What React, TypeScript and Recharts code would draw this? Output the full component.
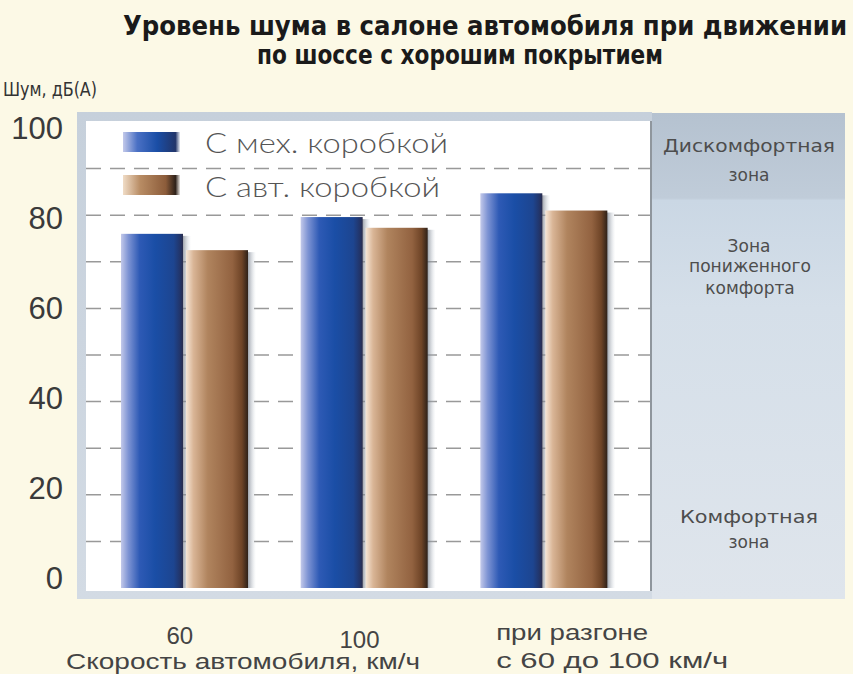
import React from 'react';
import { BarChart, Bar, XAxis, YAxis, CartesianGrid, Legend } from 'recharts';

// скорость / режим движения
const speeds = ['60', '100', 'при разгоне'];
const speedLabels = [['60'], ['100'], ['при разгоне', 'с 60 до 100 км/ч']];
// уровень шума, дБ(А)
const manualGear = [76, 79.6, 84.7];
const autoGear = [72.5, 77.3, 81];
const yTicks = [0, 10, 20, 30, 40, 50, 60, 70, 80, 90, 100];
const gridValues = [10, 20, 30, 40, 50, 60, 70, 80, 90];
const seriesNames = ['С мех. коробкой', 'С авт. коробкой'];

const data = speeds.map((s, i) => ({ speed: s, manual: manualGear[i], auto: autoGear[i] }));

const textFont = '"Liberation Sans", Arial, sans-serif';

const ShadedBar = (props: any) => {
  const { x, y, width, height, fill } = props;
  if (!height || height <= 0) return null;
  return (
    <g>
      <rect x={x + width - 2} y={y + 2} width={10} height={height - 2} fill="url(#barShadow)" />
      <rect x={x} y={y} width={width} height={height} fill={fill} />
    </g>
  );
};

const YTick = (props: any) => {
  const { y, payload } = props;
  if (payload.value % 20 !== 0) return null;
  const dy = -10 + payload.value * 0.16;
  return (
    <text x={63} y={y + dy + 11} textAnchor="end" fontSize={31} fill="#3a3a3a" fontFamily={textFont}>
      {payload.value}
    </text>
  );
};

const XTick = (props: any) => {
  const { x, y, index } = props;
  const lines = speedLabels[index] || [];
  if (lines.length > 1) {
    return (
      <g>
        <text x={x - 48} y={y + 50} fontSize={22} fill="#444" fontFamily={textFont} textLength={152} lengthAdjust="spacingAndGlyphs">{lines[0]}</text>
        <text x={x - 48} y={y + 78} fontSize={22} fill="#444" fontFamily={textFont} textLength={232} lengthAdjust="spacingAndGlyphs">{lines[1]}</text>
      </g>
    );
  }
  return (
    <text x={x - 5} y={y + 54 + index * 4} textAnchor="middle" fontSize={24} fill="#444" fontFamily={textFont}>
      {lines[0]}
    </text>
  );
};

const LegendBox = () => (
  <svg width={360} height={80} style={{ display: 'block' }}>
    <rect x={3} y={4} width={57} height={20} fill="url(#legBlue)" />
    <text x={85} y={25} fontSize={28} fontWeight={300} fill="#555" fontFamily='Lato, "DejaVu Sans", sans-serif' textLength={243} lengthAdjust="spacingAndGlyphs">{seriesNames[0]}</text>
    <rect x={3} y={47} width={57} height={20} fill="url(#legBrown)" />
    <text x={85} y={69} fontSize={28} fontWeight={300} fill="#555" fontFamily='Lato, "DejaVu Sans", sans-serif' textLength={235} lengthAdjust="spacingAndGlyphs">{seriesNames[1]}</text>
  </svg>
);

export default function App() {
  return (
    <div style={{ position: 'absolute', left: 0, top: 0, width: 853, height: 674, background: '#fcf9e6', overflow: 'hidden' }}>
      {/* рамка и белое поле графика */}
      <div style={{ position: 'absolute', left: 77, top: 112, width: 575, height: 487, background: 'linear-gradient(#c6d0db, #d3dbe4)' }} />
      <div style={{ position: 'absolute', left: 86, top: 121, width: 564, height: 470, background: '#ffffff', borderRight: '2px solid #8f969d' }} />
      {/* зоны комфорта */}
      <div
        style={{
          position: 'absolute', left: 652, top: 113, width: 193, height: 486,
          background: 'linear-gradient(#b5c2d0 0%, #c0ccd9 17.5%, #cad7e4 18%, #d5dfe9 40%, #dfe5ec 100%)',
        }}
      />
      <div style={{ position: 'absolute', left: 0, top: 0 }}>
        <BarChart
          width={853}
          height={674}
          data={data}
          margin={{ top: 122, right: 203, bottom: 0, left: 0 }}
          barSize={62}
          barGap={3}
        >
          <defs>
            <linearGradient id="blueGrad" x1="0" y1="0" x2="1" y2="0">
              <stop offset="0%" stopColor="#c3c9ea" />
              <stop offset="12%" stopColor="#7d93d3" />
              <stop offset="30%" stopColor="#2e5ab5" />
              <stop offset="55%" stopColor="#1a4ea6" />
              <stop offset="85%" stopColor="#1d4590" />
              <stop offset="95%" stopColor="#22356a" />
              <stop offset="100%" stopColor="#2a2d4d" />
            </linearGradient>
            <linearGradient id="brownGrad" x1="0" y1="0" x2="1" y2="0">
              <stop offset="0%" stopColor="#f6e6d6" />
              <stop offset="12%" stopColor="#d9b596" />
              <stop offset="35%" stopColor="#b0845e" />
              <stop offset="75%" stopColor="#926240" />
              <stop offset="90%" stopColor="#6e4427" />
              <stop offset="100%" stopColor="#2e2119" />
            </linearGradient>
            <linearGradient id="barShadow" x1="0" y1="0" x2="1" y2="0">
              <stop offset="0%" stopColor="#5d6470" stopOpacity={0.85} />
              <stop offset="100%" stopColor="#c7d0da" stopOpacity={0} />
            </linearGradient>
            <linearGradient id="legBlue" x1="0" y1="0" x2="1" y2="0">
              <stop offset="0%" stopColor="#c3c9ea" />
              <stop offset="25%" stopColor="#4a70c4" />
              <stop offset="60%" stopColor="#1a4ea6" />
              <stop offset="92%" stopColor="#22356a" />
              <stop offset="100%" stopColor="#e8ebf2" />
            </linearGradient>
            <linearGradient id="legBrown" x1="0" y1="0" x2="1" y2="0">
              <stop offset="0%" stopColor="#f0dcc6" />
              <stop offset="30%" stopColor="#b88c64" />
              <stop offset="75%" stopColor="#8c5c3a" />
              <stop offset="92%" stopColor="#2e2119" />
              <stop offset="100%" stopColor="#e8e4e0" />
            </linearGradient>
          </defs>
          <CartesianGrid vertical={false} horizontalValues={gridValues} stroke="#999" strokeWidth={1.5} strokeDasharray="15 9" />
          <XAxis
            dataKey="speed"
            height={86}
            padding={{ left: 9, right: 16 }}
            axisLine={false}
            tickLine={false}
            tickSize={0}
            tick={<XTick />}
            interval={0}
          />
          <YAxis
            width={86}
            domain={[0, 100]}
            ticks={yTicks}
            interval={0}
            axisLine={false}
            tickLine={false}
            tick={<YTick />}
          />
          <Legend
            layout="horizontal"
            verticalAlign="middle"
            align="center"
            content={<LegendBox />}
            wrapperStyle={{ position: 'absolute', left: 120, top: 128, width: 360, height: 80 }}
          />
          <Bar dataKey="manual" name={seriesNames[0]} fill="url(#blueGrad)" shape={<ShadedBar />} isAnimationActive={false} />
          <Bar dataKey="auto" name={seriesNames[1]} fill="url(#brownGrad)" shape={<ShadedBar />} isAnimationActive={false} />
        </BarChart>
      </div>
      {/* подписи */}
      <svg width={853} height={674} style={{ position: 'absolute', left: 0, top: 0, pointerEvents: 'none' }}>
        <g fontFamily='"Liberation Sans Narrow", "DejaVu Sans Condensed", sans-serif' fontWeight="bold" fill="#1a1a1a" fontSize={27}>
          <text x={123} y={35} textLength={724} lengthAdjust="spacingAndGlyphs">Уровень шума в салоне автомобиля при движении</text>
          <text x={257} y={64} textLength={406} lengthAdjust="spacingAndGlyphs">по шоссе с хорошим покрытием</text>
        </g>
        <text x={3} y={96} fontSize={20} fill="#333" fontFamily='"Liberation Sans Narrow", "DejaVu Sans Condensed", sans-serif' textLength={94} lengthAdjust="spacingAndGlyphs">Шум, дБ(А)</text>
        <text x={66} y={669} fontSize={22} fill="#444" fontFamily={textFont} textLength={354} lengthAdjust="spacingAndGlyphs">Скорость автомобиля, км/ч</text>
        <g fontFamily='"DejaVu Sans", sans-serif' fontSize={17} fill="#4d4d4d" textAnchor="middle">
          <text x={749} y={152} textLength={172} lengthAdjust="spacingAndGlyphs">Дискомфортная</text>
          <text x={749} y={181}>зона</text>
          <text x={749} y={252}>Зона</text>
          <text x={750} y={272} textLength={122} lengthAdjust="spacingAndGlyphs">пониженного</text>
          <text x={750} y={294}>комфорта</text>
          <text x={749} y={523} textLength={138} lengthAdjust="spacingAndGlyphs">Комфортная</text>
          <text x={749} y={548}>зона</text>
        </g>
      </svg>
    </div>
  );
}
